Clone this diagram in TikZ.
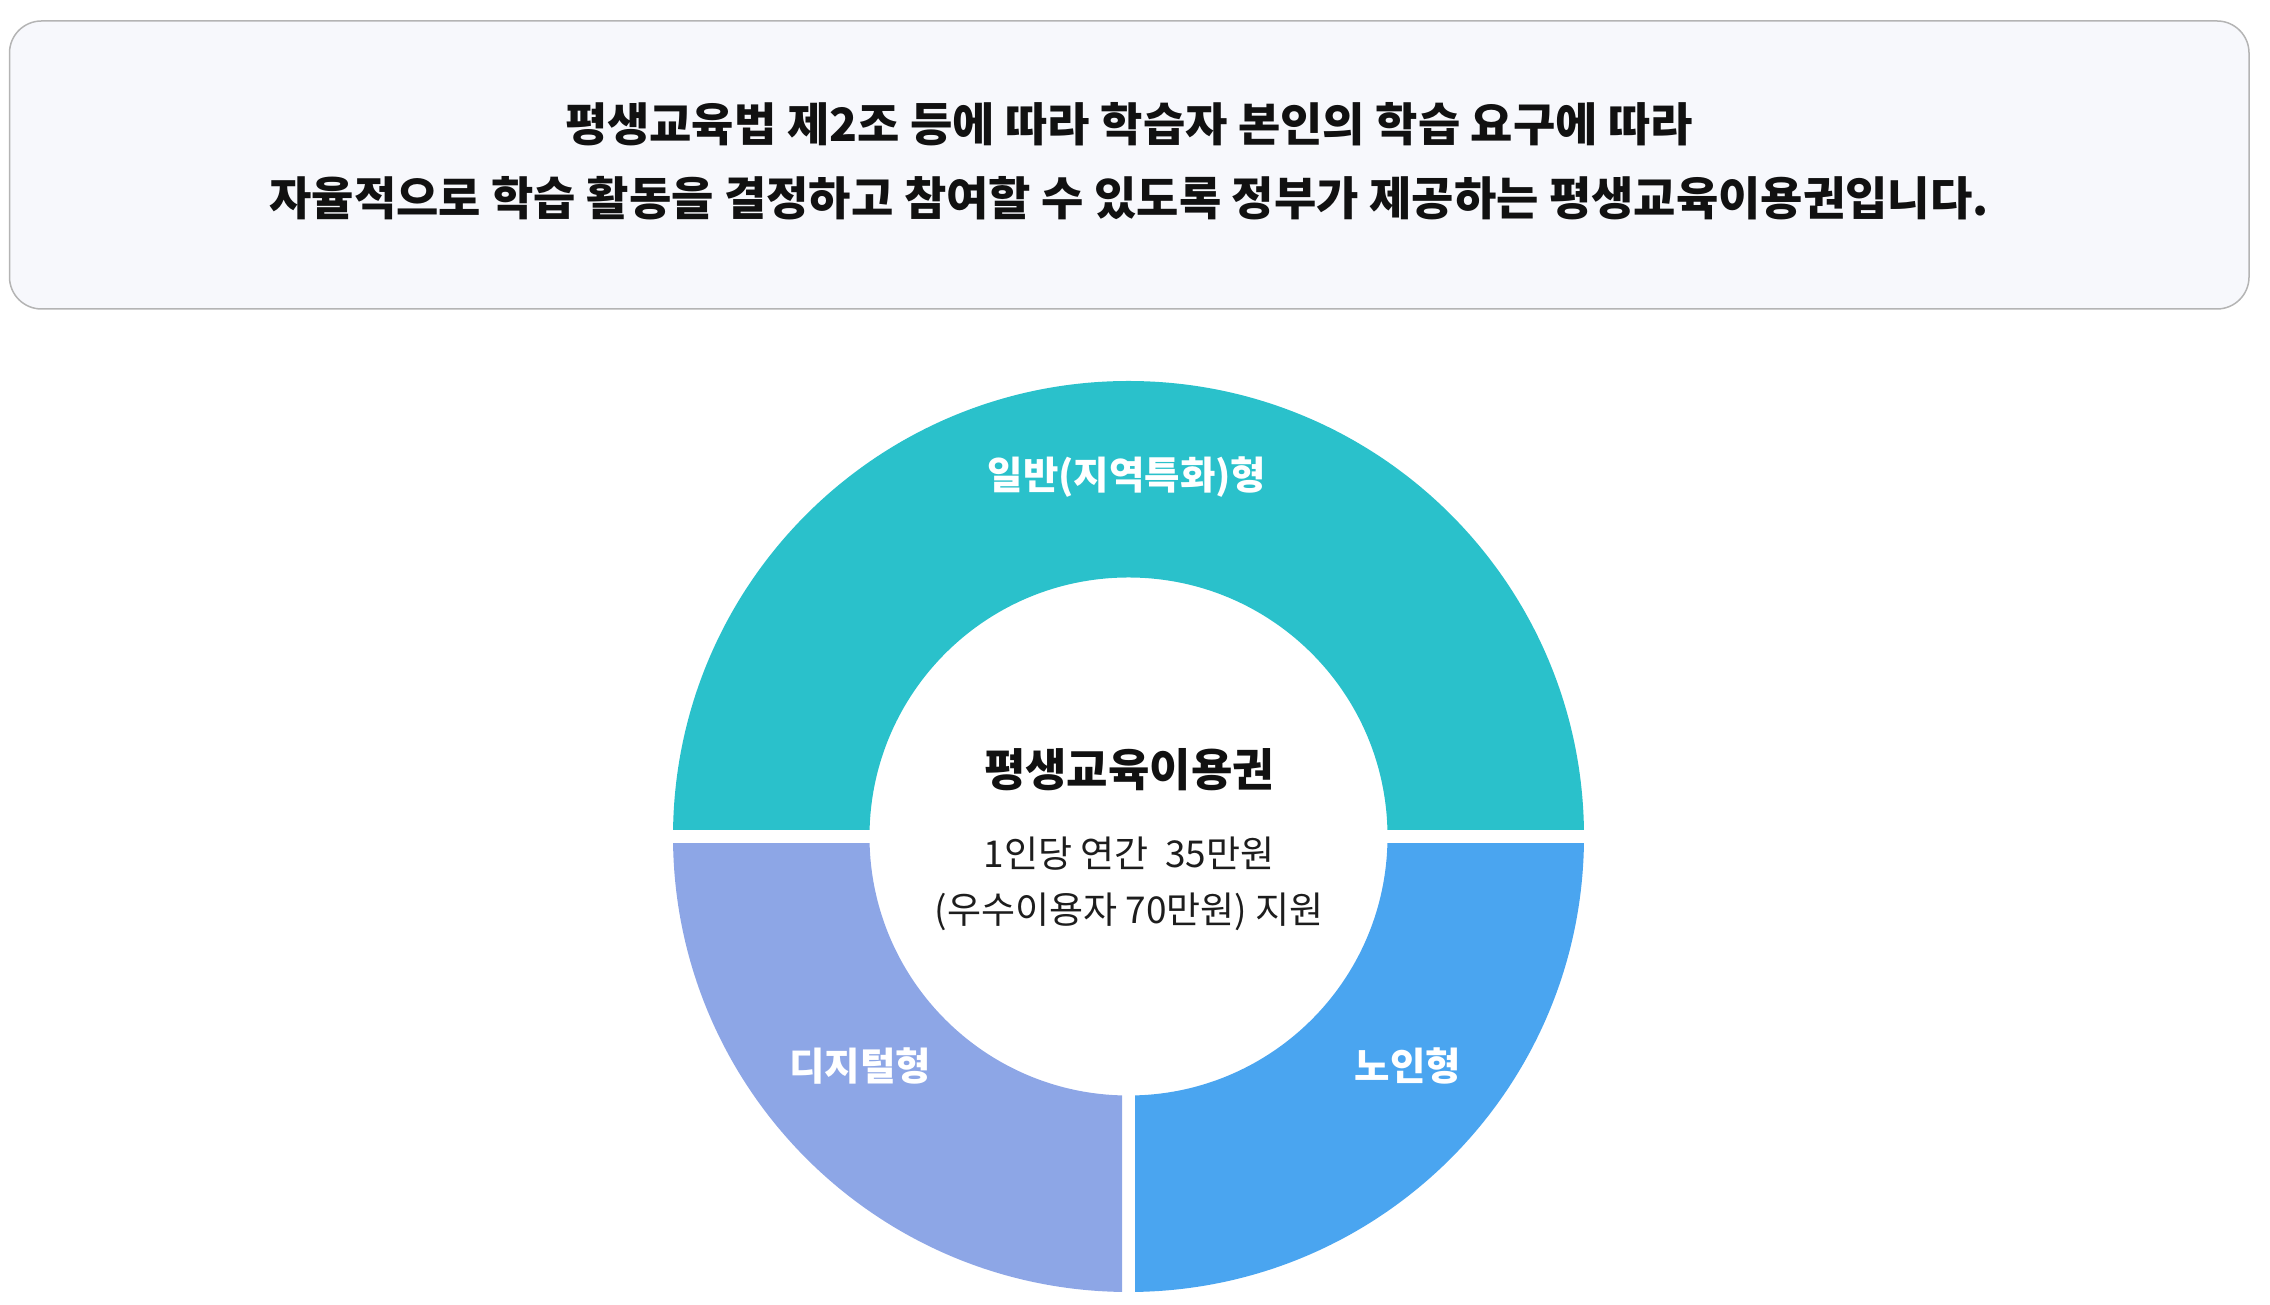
\documentclass[tikz,border=0pt]{standalone}
\usepackage{fontspec}
\newfontfamily\kr{Noto Sans CJK KR}
\definecolor{tealseg}{RGB}{42,193,203}
\definecolor{lavseg}{RGB}{141,166,230}
\definecolor{blueseg}{RGB}{74,165,240}
\definecolor{headfill}{RGB}{247,248,252}
\definecolor{headline}{RGB}{180,180,180}
\definecolor{darktext}{RGB}{17,17,17}
\begin{document}
\begin{tikzpicture}[x=1pt,y=1pt,
  headtext/.style={inner sep=0pt, text=darktext, font=\kr\bfseries\fontsize{46}{52}\selectfont},
  segtext/.style={inner sep=0pt, text=white, font=\kr\bfseries\fontsize{38.5}{44}\selectfont},
  titletext/.style={inner sep=0pt, text=darktext, font=\kr\bfseries\fontsize{45}{52}\selectfont},
  subtext/.style={inner sep=0pt, text=darktext!95!white, font=\kr\fontsize{37}{43}\selectfont}]
\useasboundingbox (0,0) rectangle (2270,1305);
% header box
\draw[headline, fill=headfill, line width=1.5pt, rounded corners=32pt] (9.5,996) rectangle (2249,1284);
\node[headtext] (h1) at (1129,1181) {평생교육법 제2조 등에 따라 학습자 본인의 학습 요구에 따라};
\node[headtext] (h2) at (1129,1107) {자율적으로 학습 활동을 결정하고 참여할 수 있도록 정부가 제공하는 평생교육이용권입니다.};
% donut
\coordinate (C) at (1128.5,468.5);
\begin{scope}
  \clip (0,475.5) rectangle (2270,1000);
  \fill[tealseg, even odd rule] (C) circle (455.5) (C) circle (259);
\end{scope}
\begin{scope}
  \clip (0,0) rectangle (1122,461.5);
  \fill[lavseg, even odd rule] (C) circle (455.5) (C) circle (259);
\end{scope}
\begin{scope}
  \clip (1135,0) rectangle (2270,461.5);
  \fill[blueseg, even odd rule] (C) circle (455.5) (C) circle (259);
\end{scope}
\node[segtext] (general) at (1127,828) {일반(지역특화)형};
\node[segtext] (digital) at (860,239) {디지털형};
\node[segtext] (senior) at (1408,239) {노인형};
\node[titletext] (title) at (1129,535) {평생교육이용권};
\node[subtext] (line1) at (1129,451) {1인당 연간~ 35만원};
\node[subtext] (line2) at (1129,393) {(우수이용자 70만원) 지원};
\end{tikzpicture}
\end{document}
